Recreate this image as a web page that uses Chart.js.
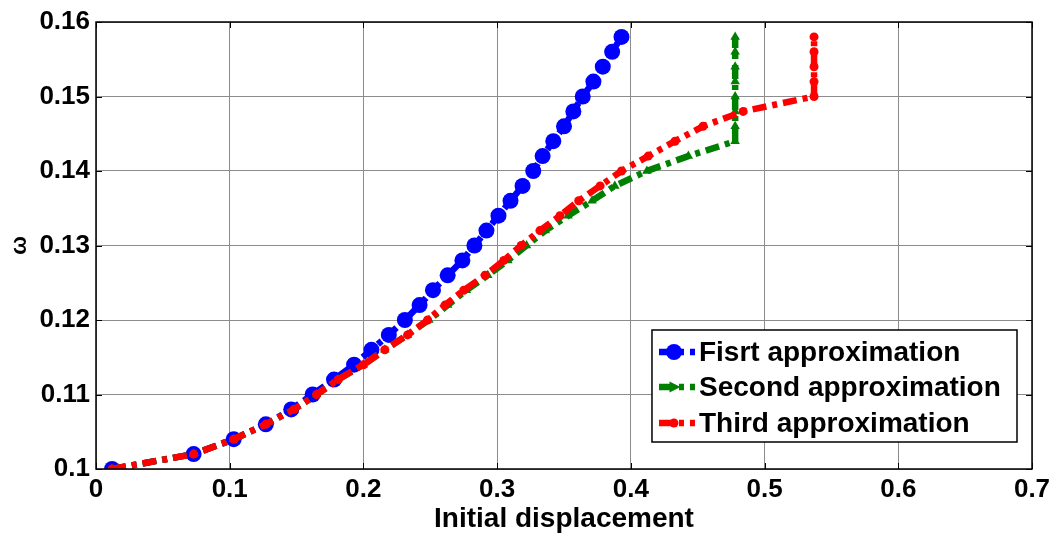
<!DOCTYPE html>
<html>
<head>
<meta charset="utf-8">
<script src="https://cdn.jsdelivr.net/npm/chart.js@4"></script>
<style>
html,body{margin:0;padding:0;background:#fff;}
#wrap{width:1060px;height:536px;position:relative;}
</style>
</head>
<body>
<div id="wrap"><canvas id="c" width="1060" height="536"></canvas></div>
<script>
// ---- data ----
const omega = [0.100,0.102,0.104,0.106,0.108,0.110,0.112,0.114,0.116,0.118,0.120,0.122,0.124,0.126,0.128,0.130,0.132,0.134,0.136,0.138,0.140,0.142,0.144,0.146,0.148,0.150,0.152,0.154,0.156,0.158];
const firstX  = [0.012,0.073,0.103,0.127,0.146,0.162,0.178,0.193,0.206,0.219,0.231,0.242,0.252,0.263,0.274,0.283,0.292,0.301,0.310,0.319,0.327,0.334,0.342,0.350,0.357,0.364,0.372,0.379,0.386,0.393];
const secondX = [0.012,0.073,0.103,0.127,0.148,0.165,0.181,0.200,0.216,0.233,0.249,0.263,0.277,0.293,0.308,0.322,0.336,0.353,0.371,0.388,0.412,0.443,0.478,0.478,0.478,0.478,0.478,0.478,0.478,0.478];
const thirdX  = [0.012,0.073,0.103,0.127,0.148,0.165,0.181,0.200,0.216,0.233,0.248,0.261,0.275,0.291,0.305,0.318,0.332,0.347,0.361,0.377,0.393,0.413,0.433,0.454,0.484,0.537,0.537,0.537,0.537,0.537];
const seriesNames = ['Fisrt approximation','Second approximation','Third approximation'];
const xTickLabels = ['0','0.1','0.2','0.3','0.4','0.5','0.6','0.7'];
const yTickLabels = ['0.1','0.11','0.12','0.13','0.14','0.15','0.16'];
const xTitle = 'Initial displacement';
const yTitle = 'ω';

const FONT = "'Liberation Sans', Arial, Helvetica, sans-serif";
const DASH = [14,6,5,6];

function pts(xs, ys){ return xs.map((x,i)=>({x:x, y:ys[i]})); }

const styles = [
  {color:'#0000ff', pointStyle:'circle', radius:8, order:2},
  {color:'#008000', pointStyle:'triangle', radius:5.5, order:1},
  {color:'#ff0000', pointStyle:'circle', radius:4.5, order:0}
];
const xs = [firstX, secondX, thirdX];

const datasets = xs.map((arr,i)=>({
  label: seriesNames[i],
  data: pts(arr, omega),
  borderColor: styles[i].color,
  backgroundColor: styles[i].color,
  pointBackgroundColor: styles[i].color,
  pointBorderColor: styles[i].color,
  pointStyle: styles[i].pointStyle,
  pointRadius: styles[i].radius,
  pointBorderWidth: 0,
  borderWidth: 6.5,
  borderDash: DASH,
  borderCapStyle: 'butt',
  tension: 0,
  fill: false,
  order: styles[i].order
}));

const framePlugin = {
  id: 'frame',
  afterDatasetsDraw(chart){
    const {ctx, chartArea:a, scales:{x, y}} = chart;
    ctx.save();
    ctx.strokeStyle = '#000';
    ctx.lineWidth = 1.5;
    ctx.strokeRect(a.left, a.top, a.right - a.left, a.bottom - a.top);
    ctx.lineWidth = 1;
    const tl = 6;
    x.ticks.forEach(t=>{
      const px = Math.round(x.getPixelForValue(t.value)) + 0.5;
      ctx.beginPath();
      ctx.moveTo(px, a.bottom); ctx.lineTo(px, a.bottom - tl);
      ctx.moveTo(px, a.top); ctx.lineTo(px, a.top + tl);
      ctx.stroke();
    });
    y.ticks.forEach(t=>{
      const py = Math.round(y.getPixelForValue(t.value)) + 0.5;
      ctx.beginPath();
      ctx.moveTo(a.left, py); ctx.lineTo(a.left + tl, py);
      ctx.moveTo(a.right, py); ctx.lineTo(a.right - tl, py);
      ctx.stroke();
    });
    ctx.restore();
  }
};

const legendPlugin = {
  id: 'boxLegend',
  afterDraw(chart){
    const {ctx, chartArea:a} = chart;
    const boxL = a.left + (a.right - a.left) * 0.594;
    const boxR = a.right - 15;
    const boxT = a.top + 308;
    const boxB = a.top + 420;
    ctx.save();
    ctx.fillStyle = '#fff';
    ctx.fillRect(boxL, boxT, boxR - boxL, boxB - boxT);
    ctx.strokeStyle = '#000';
    ctx.lineWidth = 1.5;
    ctx.strokeRect(boxL, boxT, boxR - boxL, boxB - boxT);
    const rows = [boxT + 22, boxT + 57, boxT + 93];
    ctx.font = 'bold 28px ' + FONT;
    ctx.textBaseline = 'middle';
    datasets.forEach((ds,i)=>{
      const yy = rows[i];
      const x0 = boxL + 7, x1 = boxL + 43;
      ctx.strokeStyle = ds.borderColor;
      ctx.lineWidth = 6.5;
      ctx.setLineDash(DASH);
      ctx.beginPath(); ctx.moveTo(x0, yy); ctx.lineTo(x1, yy); ctx.stroke();
      ctx.setLineDash([]);
      ctx.fillStyle = ds.borderColor;
      const mx = (x0 + x1) / 2 - 3;
      const r = ds.pointRadius;
      ctx.beginPath();
      if (ds.pointStyle === 'triangle') {
        ctx.moveTo(mx + r + 1, yy); ctx.lineTo(mx - r + 1, yy - r); ctx.lineTo(mx - r + 1, yy + r);
        ctx.closePath();
      } else {
        ctx.arc(mx, yy, r, 0, Math.PI * 2);
      }
      ctx.fill();
      ctx.fillStyle = '#000';
      ctx.fillText(ds.label, boxL + 47, yy + 1);
    });
    ctx.restore();
  }
};

new Chart(document.getElementById('c'), {
  type: 'line',
  data: { datasets },
  plugins: [framePlugin, legendPlugin],
  options: {
    responsive: false,
    animation: false,
    devicePixelRatio: 1,
    layout: { padding: { top: 22, right: 28, left: 0, bottom: 0 } },
    plugins: { legend: { display: false }, tooltip: { enabled: false } },
    scales: {
      x: {
        type: 'linear', min: 0, max: 0.7,
        afterFit(s){ s.height = 67; },
        afterBuildTicks(s){ s.ticks = xTickLabels.map(l=>({value: parseFloat(l)})); },
        ticks: {
          callback: (v, i) => xTickLabels[i],
          color: '#000', padding: 5, maxRotation: 0, autoSkip: false,
          font: { family: FONT, size: 26, weight: 'bold' }
        },
        grid: { color: '#8c8c8c', lineWidth: 1, drawTicks: false },
        border: { display: false },
        title: { display: true, text: xTitle, color: '#000', padding: {top: 0, bottom: 0},
          font: { family: FONT, size: 28, weight: 'bold' } }
      },
      y: {
        type: 'linear', min: 0.1, max: 0.16,
        afterFit(s){ s.width = 96; },
        afterBuildTicks(s){ s.ticks = yTickLabels.map(l=>({value: parseFloat(l)})); },
        ticks: {
          callback: (v, i) => yTickLabels[i],
          color: '#000', padding: 6, autoSkip: false,
          font: { family: FONT, size: 26, weight: 'bold' }
        },
        grid: { color: '#8c8c8c', lineWidth: 1, drawTicks: false },
        border: { display: false },
        title: { display: true, text: yTitle, color: '#000', padding: {top: 7, bottom: 0},
          font: { family: FONT, size: 22, weight: 'bold' } }
      }
    }
  }
});
</script>
</body>
</html>
